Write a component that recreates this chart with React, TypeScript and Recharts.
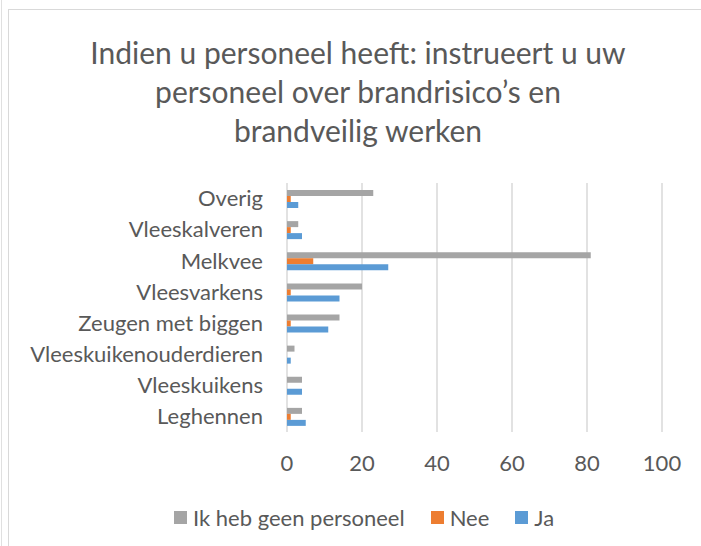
import React from "react";
import { BarChart, Bar, XAxis, YAxis, CartesianGrid } from "recharts";

const categories = [
  "Overig",
  "Vleeskalveren",
  "Melkvee",
  "Vleesvarkens",
  "Zeugen met biggen",
  "Vleeskuikenouderdieren",
  "Vleeskuikens",
  "Leghennen",
];
const geenPersoneel = [23, 3, 81, 20, 14, 2, 4, 4];
const nee = [1, 1, 7, 1, 1, 0, 0, 1];
const ja = [3, 4, 27, 14, 11, 1, 4, 5];
const xTicks = [0, 20, 40, 60, 80, 100];

const SERIES = [
  { key: "Ik heb geen personeel", color: "#A5A5A5" },
  { key: "Nee", color: "#ED7D31" },
  { key: "Ja", color: "#5B9BD5" },
];

const FONT = "Lato, 'Noto Sans', sans-serif";
const TEXT = "#595959";

const data = categories.map((name, i) => ({
  name,
  "Ik heb geen personeel": geenPersoneel[i],
  Nee: nee[i],
  Ja: ja[i],
}));

function ChartLegend() {
  return (
    <div
      style={{
        position: "absolute",
        left: 174,
        top: 502,
        height: 30,
        display: "flex",
        alignItems: "center",
        gap: 26,
        fontFamily: FONT,
        fontSize: 22,
        color: TEXT,
        whiteSpace: "nowrap",
      }}
    >
      {SERIES.map((s) => (
        <div key={s.key} style={{ display: "flex", alignItems: "center" }}>
          <span style={{ flex: "0 0 13px", width: 13, height: 13, background: s.color, marginRight: 6, display: "block" }} />
          <span>{s.key}</span>
        </div>
      ))}
    </div>
  );
}

export default function App() {
  return (
    <div style={{ position: "absolute", left: 0, top: 0, width: 701, height: 546, background: "#fff", overflow: "hidden" }}>
      <div style={{ position: "absolute", left: 1, top: 0, width: 1, height: 546, background: "#e0e0e0" }} />
      <div style={{ position: "absolute", left: 8, top: 9, right: 0, bottom: 0, borderLeft: "1.5px solid #d9d9d9", borderTop: "1.5px solid #d9d9d9" }} />
      <div
        style={{
          position: "absolute",
          left: 8,
          width: 700,
          top: 33,
          textAlign: "center",
          fontFamily: FONT,
          fontSize: 30,
          lineHeight: "39px",
          color: TEXT,
        }}
      >
        Indien u personeel heeft: instrueert u uw
        <br />
        personeel over brandrisico’s en
        <br />
        brandveilig werken
      </div>
      <div style={{ position: "absolute", left: 0, top: 0 }}>
        <BarChart
          width={701}
          height={546}
          data={data}
          layout="vertical"
          margin={{ top: 183, right: 39, bottom: 0, left: 0 }}
          barGap={0}
          barSize={6}
        >
          <CartesianGrid horizontal={false} vertical={true} stroke="#d9d9d9" strokeWidth={1.5} />
          <XAxis
            type="number"
            domain={[0, 100]}
            ticks={xTicks}
            axisLine={false}
            tickLine={false}
            tickSize={0}
            tickMargin={23}
            height={114}
            tick={{ fill: TEXT, fontSize: 22, fontFamily: FONT }}
          />
          <YAxis
            type="category"
            dataKey="name"
            width={287}
            axisLine={false}
            tickLine={false}
            tickSize={0}
            tickMargin={24}
            interval={0}
            tick={{ fill: TEXT, fontSize: 22, fontFamily: FONT }}
          />
          {SERIES.map((s) => (
            <Bar key={s.key} dataKey={s.key} fill={s.color} isAnimationActive={false} />
          ))}
        </BarChart>
      </div>
      <ChartLegend />
    </div>
  );
}
